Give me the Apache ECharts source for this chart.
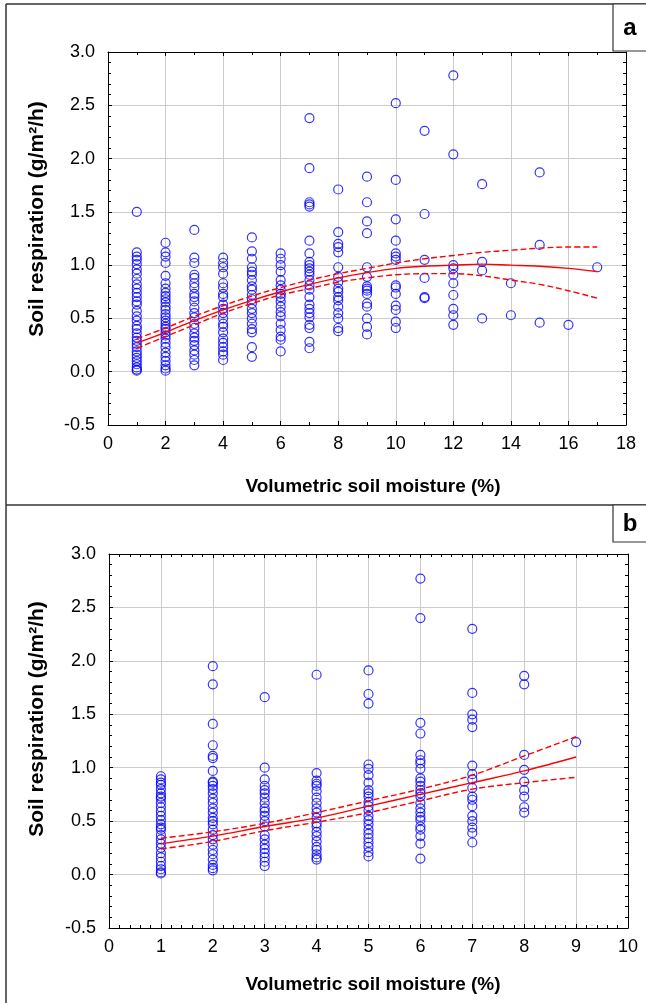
<!DOCTYPE html>
<html><head><meta charset="utf-8">
<script src="https://cdn.jsdelivr.net/npm/echarts@6/dist/echarts.min.js"></script>
<style>html,body{margin:0;padding:0;background:#fff}#c{width:646px;height:1003px}</style>
</head><body><div id="c"></div>
<script>
// ---------- Panel a data ----------
const moistA = [1,2,3,4,5,6,7,8,9,10,11,12,13,14,15,16,17];
const respA = [
  [1.50,1.12,1.08,1.05,1.01,0.96,0.92,0.87,0.82,0.78,0.74,0.70,0.66,0.63,0.57,0.52,0.48,0.43,0.40,0.36,0.32,0.29,0.26,0.23,0.19,0.16,0.13,0.10,0.07,0.04,0.02,0.01],
  [1.21,1.12,1.08,1.02,0.90,0.83,0.78,0.74,0.71,0.68,0.65,0.61,0.58,0.54,0.51,0.48,0.45,0.42,0.40,0.37,0.34,0.31,0.27,0.23,0.18,0.14,0.10,0.06,0.03,0.01],
  [1.33,1.07,1.02,0.91,0.88,0.83,0.79,0.73,0.70,0.66,0.60,0.55,0.51,0.45,0.41,0.36,0.32,0.29,0.25,0.20,0.16,0.11,0.06],
  [1.07,1.02,0.98,0.92,0.83,0.79,0.73,0.70,0.63,0.59,0.55,0.50,0.45,0.42,0.37,0.31,0.27,0.23,0.19,0.16,0.11],
  [1.26,1.13,1.06,0.98,0.94,0.91,0.86,0.80,0.77,0.72,0.68,0.64,0.59,0.55,0.50,0.45,0.40,0.37,0.23,0.14],
  [1.11,1.06,1.00,0.94,0.86,0.81,0.77,0.73,0.70,0.66,0.61,0.56,0.52,0.45,0.39,0.33,0.30,0.19],
  [2.38,1.91,1.59,1.57,1.55,1.23,1.11,1.03,1.00,0.97,0.94,0.91,0.86,0.81,0.77,0.70,0.63,0.59,0.55,0.51,0.44,0.41,0.28,0.22],
  [1.71,1.31,1.20,1.17,1.12,0.98,0.89,0.84,0.78,0.75,0.70,0.67,0.61,0.55,0.50,0.41,0.38],
  [1.83,1.59,1.41,1.30,0.98,0.89,0.80,0.78,0.76,0.73,0.64,0.61,0.50,0.42,0.35],
  [2.52,1.80,1.43,1.23,1.11,1.08,1.05,0.81,0.79,0.73,0.62,0.58,0.47,0.41],
  [2.26,1.48,1.05,0.88,0.70,0.69],
  [2.78,2.04,1.00,0.97,0.91,0.83,0.72,0.59,0.53,0.44],
  [1.76,1.03,0.95,0.50],
  [0.83,0.53],
  [1.87,1.19,0.46],
  [0.44],
  [0.98]
];
const fitA   = [0.27,0.37,0.48,0.58,0.67,0.75,0.82,0.88,0.93,0.97,0.99,1.00,1.01,1.00,0.99,0.97,0.94];
const upperA = [0.31,0.41,0.52,0.62,0.71,0.79,0.86,0.92,0.97,1.02,1.06,1.09,1.12,1.14,1.16,1.17,1.17];
const lowerA = [0.22,0.33,0.44,0.55,0.64,0.72,0.78,0.84,0.88,0.91,0.92,0.92,0.90,0.86,0.82,0.76,0.69];

// ---------- Panel b data ----------
const moistB = [1,2,3,4,5,6,7,8,9];
const respB = [
  [0.92,0.89,0.86,0.84,0.80,0.76,0.73,0.71,0.67,0.63,0.59,0.55,0.51,0.47,0.44,0.42,0.37,0.33,0.29,0.25,0.20,0.16,0.12,0.08,0.05,0.02,0.01],
  [1.95,1.78,1.41,1.21,1.11,1.09,0.97,0.87,0.86,0.83,0.80,0.76,0.71,0.67,0.62,0.58,0.53,0.50,0.47,0.42,0.37,0.33,0.28,0.23,0.19,0.14,0.09,0.06,0.04],
  [1.66,1.00,0.89,0.83,0.79,0.76,0.72,0.67,0.62,0.59,0.55,0.50,0.45,0.37,0.33,0.28,0.24,0.20,0.16,0.12,0.08],
  [1.87,0.95,0.88,0.85,0.83,0.78,0.72,0.67,0.62,0.58,0.53,0.48,0.45,0.40,0.36,0.31,0.26,0.23,0.19,0.16,0.14],
  [1.91,1.69,1.60,1.03,0.99,0.93,0.86,0.79,0.76,0.73,0.68,0.64,0.60,0.55,0.51,0.47,0.42,0.38,0.34,0.30,0.26,0.21,0.17],
  [2.77,2.40,1.42,1.32,1.12,1.07,1.04,0.99,0.90,0.87,0.83,0.79,0.76,0.73,0.67,0.62,0.58,0.54,0.51,0.45,0.42,0.36,0.29,0.15],
  [2.30,1.70,1.50,1.45,1.38,1.02,0.94,0.89,0.81,0.73,0.70,0.64,0.55,0.50,0.44,0.39,0.30],
  [1.86,1.78,1.12,0.98,0.87,0.79,0.73,0.63,0.58],
  [1.24]
];
const fitB   = [0.29,0.36,0.45,0.53,0.64,0.75,0.86,0.97,1.10];
const upperB = [0.34,0.40,0.48,0.58,0.69,0.80,0.93,1.11,1.29];
const lowerB = [0.24,0.31,0.41,0.49,0.58,0.69,0.80,0.86,0.91];

// ---------- Labels ----------
const xTitle = 'Volumetric soil moisture (%)';
const yTitle = 'Soil respiration (g/m\u00B2/h)';
const panelLabels = ['a', 'b'];

const FONT = '"Liberation Sans", Arial, sans-serif';
const BLUE = '#0000ff';
const RED = '#ff0000';

function pts(xs, cols) {
  const out = [];
  xs.forEach((x, i) => cols[i].forEach(v => out.push([x, v])));
  return out;
}
function pairs(xs, ys) { return xs.map((x, i) => [x, ys[i]]); }

function xAxes(grid, max, interval, minorSplit) {
  const common = {
    gridIndex: grid, type: 'value', min: 0, max: max, interval: interval,
    axisLine: { show: true, onZero: false, lineStyle: { color: '#000', width: 1 } },
    axisTick: { show: true, inside: true, length: 4, lineStyle: { color: '#000', width: 1 } },
    minorTick: { show: true, splitNumber: minorSplit, length: 3, lineStyle: { color: '#000', width: 1 } }
  };
  return [
    Object.assign({}, common, {
      position: 'bottom',
      splitLine: { show: true, lineStyle: { color: '#cccccc', width: 1 } },
      axisLabel: { show: true, fontSize: 18, color: '#000', margin: 10, fontFamily: FONT }
    }),
    Object.assign({}, common, {
      position: 'top', splitLine: { show: false }, axisLabel: { show: false }
    })
  ];
}
function yAxes(grid) {
  const common = {
    gridIndex: grid, type: 'value', min: -0.5, max: 3.0, interval: 0.5,
    axisLine: { show: true, onZero: false, lineStyle: { color: '#000', width: 1 } },
    axisTick: { show: true, inside: true, length: 4, lineStyle: { color: '#000', width: 1 } },
    minorTick: { show: true, splitNumber: 5, length: 3, lineStyle: { color: '#000', width: 1 } }
  };
  return [
    Object.assign({}, common, {
      position: 'left',
      splitLine: { show: true, lineStyle: { color: '#cccccc', width: 1 } },
      axisLabel: { show: true, fontSize: 18, color: '#000', margin: 13, fontFamily: FONT,
                   formatter: v => v.toFixed(1) }
    }),
    Object.assign({}, common, {
      position: 'right', splitLine: { show: false }, axisLabel: { show: false }
    })
  ];
}

function panelSeries(xi, yi, xs, cols, fx, fit, up, lo) {
  const scatter = {
    type: 'scatter', xAxisIndex: xi, yAxisIndex: yi, data: pts(xs, cols),
    symbol: 'circle', symbolSize: 9,
    itemStyle: { color: 'rgba(0,0,0,0)', borderColor: BLUE, borderWidth: 1.2 },
    z: 2
  };
  const mk = (d, dashed) => ({
    type: 'line', xAxisIndex: xi, yAxisIndex: yi, data: pairs(fx, d),
    showSymbol: false, symbol: 'none', smooth: 0.35,
    lineStyle: { color: RED, width: 1.4, type: dashed ? [6, 3] : 'solid' }, z: 3
  });
  return [scatter, mk(fit, false), mk(up, true), mk(lo, true)];
}

const chart = echarts.init(document.getElementById('c'), null, { renderer: 'canvas' });

const frame = '#333';
const option = {
  animation: false,
  backgroundColor: '#fff',
  grid: [
    { left: 108, top: 52, width: 518, height: 373 },
    { left: 109, top: 554, width: 519, height: 374 }
  ],
  xAxis: [].concat(xAxes(0, 18, 2, 2), xAxes(1, 10, 1, 5)),
  yAxis: [].concat(yAxes(0), yAxes(1)),
  series: [].concat(
    panelSeries(0, 0, moistA, respA, moistA, fitA, upperA, lowerA),
    panelSeries(2, 2, moistB, respB, moistB, fitB, upperB, lowerB)
  ),
  graphic: [
    // outer frame
    { type: 'line', shape: { x1: 6, y1: 4, x2: 646, y2: 4 }, style: { stroke: frame, lineWidth: 1.5 } },
    { type: 'line', shape: { x1: 6, y1: 4, x2: 6, y2: 1003 }, style: { stroke: frame, lineWidth: 1.5 } },
    { type: 'line', shape: { x1: 6, y1: 505, x2: 646, y2: 505 }, style: { stroke: frame, lineWidth: 1.5 } },
    // panel label boxes
    { type: 'rect', shape: { x: 613, y: 4, width: 40, height: 47 }, style: { fill: '#fff', stroke: frame, lineWidth: 1.2 } },
    { type: 'text', x: 630, y: 28, style: { text: panelLabels[0], font: 'bold 24px ' + FONT, fill: '#000', align: 'center', verticalAlign: 'middle' } },
    { type: 'rect', shape: { x: 613, y: 505, width: 40, height: 37 }, style: { fill: '#fff', stroke: frame, lineWidth: 1.2 } },
    { type: 'text', x: 630, y: 524, style: { text: panelLabels[1], font: 'bold 24px ' + FONT, fill: '#000', align: 'center', verticalAlign: 'middle' } },
    // axis titles
    { type: 'text', x: 373, y: 487, style: { text: xTitle, font: 'bold 19px ' + FONT, fill: '#000', align: 'center', verticalAlign: 'middle' } },
    { type: 'text', x: 373, y: 985, style: { text: xTitle, font: 'bold 19px ' + FONT, fill: '#000', align: 'center', verticalAlign: 'middle' } },
    { type: 'text', x: 37, y: 219, rotation: Math.PI / 2, style: { text: yTitle, font: 'bold 21px ' + FONT, fill: '#000', align: 'center', verticalAlign: 'middle' } },
    { type: 'text', x: 37, y: 719, rotation: Math.PI / 2, style: { text: yTitle, font: 'bold 21px ' + FONT, fill: '#000', align: 'center', verticalAlign: 'middle' } }
  ]
};
chart.setOption(option);
</script>
</body></html>
